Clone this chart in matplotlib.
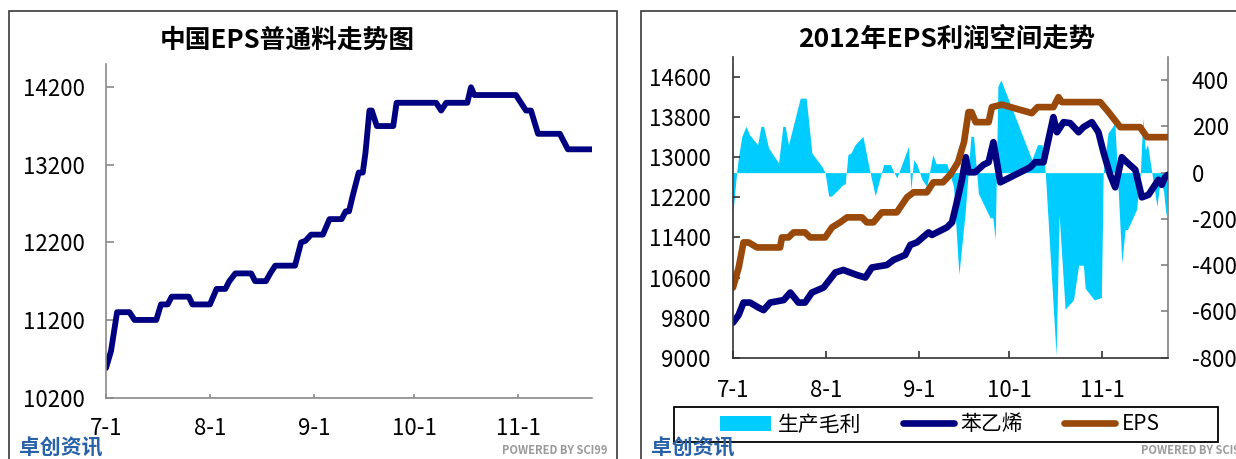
import matplotlib
matplotlib.use("Agg")
import matplotlib.pyplot as plt
from matplotlib.patches import Rectangle

plt.rcParams['font.family'] = ['Noto Sans CJK SC', 'DejaVu Sans']
plt.rcParams['axes.unicode_minus'] = False

# x positions are days counted from 7-1 (2012)
month_ticks = [0, 31, 62, 92, 123]
month_labels = ["7-1", "8-1", "9-1", "10-1", "11-1"]

# left chart: 中国EPS普通料走势图
eps_day = [0, 1.5, 3.3, 7, 8.5, 15, 16.4, 18.4, 19.6, 24.7, 25.8, 31, 33, 35.6,
           36.8, 38.6, 43.3, 44.5, 47.7, 49, 50.5, 56.4, 58.2, 59.5, 61.2, 64.7,
           66.7, 70.3, 71.5, 72.5, 73.6, 74.8, 75.4, 76.6, 77.4, 78.6, 79.3, 80.8,
           85.7, 86.7, 98.5, 100, 101.5, 107.8, 108.9, 109.9, 122.3, 125.3, 126.8,
           128.9, 135.4, 137.8, 145]
eps_val = [10580, 10800, 11300, 11300, 11200, 11200, 11400, 11400, 11500, 11500,
           11400, 11400, 11600, 11600, 11700, 11800, 11800, 11700, 11700, 11800,
           11900, 11900, 12200, 12220, 12300, 12300, 12500, 12500, 12600, 12600,
           12800, 13000, 13100, 13100, 13350, 13900, 13900, 13700, 13700, 14000,
           14000, 13900, 14000, 14000, 14200, 14100, 14100, 13900, 13900, 13600,
           13600, 13400, 13400]

# right chart: 2012年EPS利润空间走势
eps2_day = [0, 1.9, 3.5, 5.2, 8, 15.7, 16.3, 18.5, 20.2, 24, 25.7, 30.7, 33, 35.7,
            38, 43, 44.6, 46.8, 49.6, 54.6, 58, 60.2, 64.6, 66.8, 70, 72.4, 75,
            77, 78.5, 79.5, 80.9, 85.2, 86.3, 89.6, 99.6, 101.5, 106.8, 108.5,
            109.6, 122.4, 125.2, 129.1, 135.7, 138, 145]
eps2_val = [10400, 10800, 11300, 11300, 11200, 11200, 11400, 11400, 11500, 11500,
            11400, 11400, 11600, 11700, 11800, 11800, 11700, 11700, 11900, 11900,
            12200, 12300, 12300, 12500, 12500, 12650, 12900, 13300, 13900, 13900,
            13700, 13700, 14000, 14050, 13880, 14000, 14000, 14200, 14100, 14100,
            13900, 13600, 13600, 13400, 13400]

sty_day = [0, 1.85, 3.5, 5.7, 8.5, 10.2, 12.4, 16.9, 19.1, 21.8, 24, 26.3, 30.2,
           34.1, 36.8, 41.3, 44.1, 46.3, 51.3, 53.5, 57.4, 59.1, 61.3, 65.2, 66.3,
           71.3, 73, 74.6, 76.3, 77.6, 78.5, 80.7, 83.5, 85.2, 86.8, 89.1, 99.1,
           100.7, 103.5, 106.8, 108, 110.2, 112.4, 115.2, 116.8, 119.6, 121.8,
           123.5, 125.7, 127.4, 129.6, 131.3, 134.1, 136.3, 138.5, 141.8, 142.9,
           144, 145]
sty_val = [9700, 9850, 10100, 10100, 10000, 9950, 10100, 10150, 10300, 10100,
           10100, 10300, 10400, 10700, 10750, 10650, 10600, 10800, 10850, 10950,
           11050, 11250, 11300, 11500, 11450, 11600, 11700, 12100, 12550, 13000,
           12700, 12700, 12850, 12900, 13300, 12500, 12800, 12900, 12900, 13800,
           13500, 13700, 13680, 13500, 13600, 13700, 13500, 13100, 12650, 12400,
           13000, 12900, 12750, 12200, 12250, 12550, 12450, 12600, 12650]

gm_day = [0, 1.2, 1.85, 2.96, 4.3, 5.5, 8.2, 9.3, 10.2, 11.85, 15.2, 16.6, 17.4,
          18.5, 22.4, 24.4, 26.3, 29.6, 30.7, 31.9, 33, 36.8, 37.4, 38.3, 39.3,
          40.7, 43.3, 45.7, 47.4, 50.2, 52.4, 54.6, 58.5, 59.3, 60.2, 61.3, 63,
          64.6, 66.6, 67.7, 71.3, 73.5, 75.3, 77.4, 79.3, 80.2, 81.8, 85.7, 86.6,
          87.4, 88.3, 89.3, 99.6, 101.5, 103, 104.1, 107.7, 108.7, 110.7, 113.5,
          115.2, 116.8, 117.4, 120.4, 122.8, 123.4, 125, 127.3, 129.6, 130.7,
          131.5, 134.5, 135.8, 136.6, 137.4, 138.2, 139.6, 141.3, 142.4, 143.5,
          144.4, 145]
gm_val = [-170, 0, 70, 157, 200, 164, 121, 200, 200, 107, 42, 200, 200, 121, 322,
          322, 85, 27, 0, -102, -100, -50, -50, 78, 85, 121, 157, 0, -100, 35, 35,
          -23, 114, -75, 56, 35, -30, -60, 78, 39, 39, -60, -440, -170, 157, 157,
          -90, -195, -195, -290, 373, 401, 56, 121, 121, 0, -790, -180, -590, -550,
          -400, -400, -500, -550, -540, 0, 171, 214, -390, -246, -246, -160, 0,
          236, 99, 121, 0, -145, -35, -78, -189, -60]

navy = "#000080"
brown = "#994A0A"
cyan = "#00CCFF"

fig = plt.figure(figsize=(12.36, 4.59), dpi=100)

# panel frames
fig.patches.append(Rectangle((9 / 1236, -0.1), 608 / 1236, 1.1 - 11 / 459,
                             transform=fig.transFigure, fill=False,
                             edgecolor="#3a3a3a", lw=1.2))
fig.patches.append(Rectangle((641 / 1236, -0.1), 0.6, 1.1 - 11 / 459,
                             transform=fig.transFigure, fill=False,
                             edgecolor="#3a3a3a", lw=1.2))

# ---- left chart ----
ax = fig.add_axes([106 / 1236, 1 - 397.5 / 459, 486 / 1236, 333.5 / 459])
ax.plot(eps_day, eps_val, color=navy, lw=4.2, solid_joinstyle="round",
        solid_capstyle="round")
ax.set_xlim(0, 145)
ax.set_ylim(10200, 14500)
ax.set_yticks([10200, 11200, 12200, 13200, 14200])
ax.set_xticks(month_ticks)
ax.set_xticklabels(month_labels)
for s in ["top", "right"]:
    ax.spines[s].set_visible(False)
for s in ["left", "bottom"]:
    ax.spines[s].set_color("#8a8a8a")
    ax.spines[s].set_linewidth(1.2)
ax.tick_params(axis="y", direction="in", length=6, width=1.2, color="#8a8a8a",
               labelsize=16, pad=15)
ax.tick_params(axis="x", direction="in", length=3, width=1.2, color="#8a8a8a",
               labelsize=16, pad=14)
fig.text(287 / 1236, 1 - 40 / 459, "中国EPS普通料走势图", ha="center", va="center",
         fontsize=18.5, fontweight="bold")

# ---- right chart ----
ax1 = fig.add_axes([733 / 1236, 1 - 357.7 / 459, 435 / 1236, 300.7 / 459])
ax2 = ax1.twinx()
area = ax2.fill_between(gm_day, 0, gm_val, color=cyan, lw=0, label="生产毛利")
l1, = ax1.plot(sty_day, sty_val, color=navy, lw=4.8, solid_joinstyle="round",
               solid_capstyle="round", label="苯乙烯")
l2, = ax1.plot(eps2_day, eps2_val, color=brown, lw=4.8, solid_joinstyle="round",
               solid_capstyle="round", label="EPS")
ax1.set_zorder(ax2.get_zorder() + 1)
ax1.patch.set_visible(False)

ax1.set_xlim(0, 145)
ax1.set_ylim(9000, 15000)
ax1.set_yticks([9000, 9800, 10600, 11400, 12200, 13000, 13800, 14600])
ax2.set_ylim(-800, 500)
ax2.set_yticks([-800, -600, -400, -200, 0, 200, 400])
ax1.set_xticks(month_ticks)
ax1.set_xticklabels(month_labels)
ax1.spines["top"].set_visible(False)
ax2.spines["top"].set_visible(False)
for s in ["left", "bottom"]:
    ax1.spines[s].set_color("#333333")
    ax1.spines[s].set_linewidth(1.2)
    ax2.spines[s].set_visible(False)
ax1.spines["right"].set_visible(False)
ax2.spines["right"].set_color("#808080")
ax2.spines["right"].set_linewidth(1.2)
ax1.tick_params(axis="y", direction="in", length=5, width=1.2, color="#333333",
                labelsize=16, pad=16)
ax1.tick_params(axis="x", direction="in", length=5, width=1.2, color="#333333",
                labelsize=16, pad=15)
ax2.tick_params(axis="y", direction="in", length=5, width=1.2, color="#808080",
                labelsize=16, pad=17)
fig.text(947 / 1236, 1 - 39 / 459, "2012年EPS利润空间走势", ha="center",
         va="center", fontsize=19, fontweight="bold")

# legend: frame drawn separately, entries centred inside it
fig.patches.append(Rectangle((674 / 1236, 1 - 441.7 / 459), 544 / 1236, 35 / 459,
                             transform=fig.transFigure, fill=False,
                             edgecolor="black", lw=1.3))
fig.legend([area, l1, l2], ["生产毛利", "苯乙烯", "EPS"], ncol=3,
           loc="center", bbox_to_anchor=(940 / 1236, 1 - 424.5 / 459),
           borderaxespad=0, fontsize=15, handlelength=2.45, handletextpad=0.3,
           columnspacing=2.0, frameon=False)

# watermarks
fig.text(19 / 1236, 1 - 448 / 459, "卓创资讯", ha="left", va="center",
         fontsize=15, fontweight="bold", color="#2a62a8")
fig.text(651 / 1236, 1 - 448 / 459, "卓创资讯", ha="left", va="center",
         fontsize=15, fontweight="bold", color="#2a62a8")
fig.text(608 / 1236, 1 - 451 / 459, "POWERED BY SCI99", ha="right", va="center",
         fontsize=8, fontweight="bold", color="#9a9a9a")
fig.text(1141 / 1236, 1 - 451 / 459, "POWERED BY SCI99", ha="left", va="center",
         fontsize=8, fontweight="bold", color="#9a9a9a")

fig.savefig("out.png", dpi=100)
